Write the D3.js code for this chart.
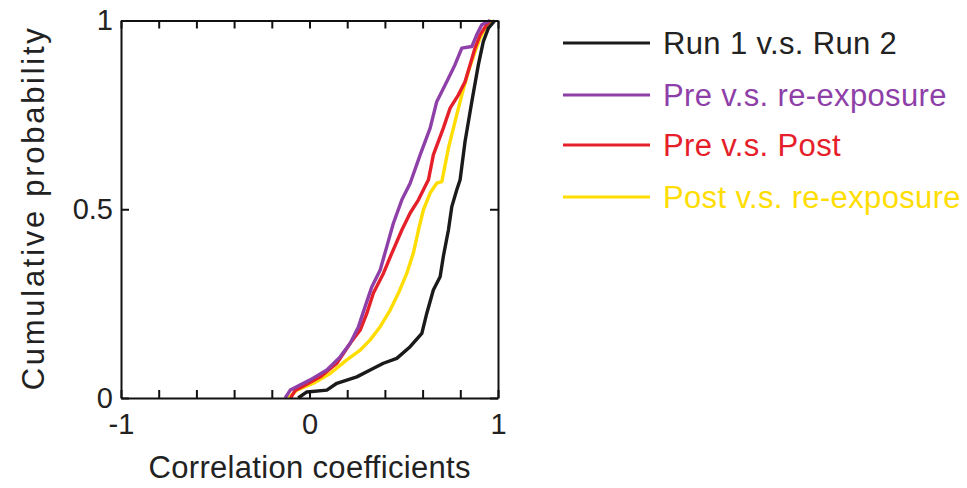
<!DOCTYPE html>
<html>
<head>
<meta charset="utf-8">
<script src="https://cdn.jsdelivr.net/npm/d3@7"></script>
<style>
  body { margin: 0; background: #fff; }
  svg { font-family: "Liberation Sans", Arial, sans-serif; }
</style>
</head>
<body>
<div id="main"></div>
<script>
// legend labels / colours
const seriesNames = ["Run 1 v.s. Run 2", "Pre v.s. re-exposure", "Pre v.s. Post", "Post v.s. re-exposure"];
const seriesColors = ["#1a1a1a", "#8e3fa8", "#e5202a", "#ffdd00"];

// cumulative distributions: correlation value (r) and cumulative probability (p)
const run12R = [-0.06, -0.014, 0.092, 0.145, 0.251, 0.322, 0.392, 0.463, 0.534, 0.596, 0.622, 0.657, 0.693, 0.710, 0.737, 0.755, 0.781, 0.799, 0.825, 0.861, 0.896, 0.922, 0.949, 0.984];
const run12P = [0, 0.016, 0.021, 0.039, 0.056, 0.074, 0.092, 0.105, 0.136, 0.171, 0.224, 0.286, 0.321, 0.375, 0.445, 0.507, 0.551, 0.578, 0.679, 0.785, 0.883, 0.944, 0.98, 1];

const preReR = [-0.129, -0.102, 0.004, 0.092, 0.163, 0.216, 0.260, 0.295, 0.331, 0.375, 0.410, 0.445, 0.490, 0.534, 0.587, 0.640, 0.675, 0.728, 0.772, 0.808, 0.861, 0.887, 0.914, 0.958];
const preReP = [0, 0.021, 0.048, 0.074, 0.109, 0.145, 0.189, 0.242, 0.295, 0.339, 0.401, 0.463, 0.525, 0.569, 0.644, 0.715, 0.785, 0.838, 0.883, 0.927, 0.931, 0.962, 0.989, 1];

const prePostR = [-0.1, -0.076, 0.057, 0.145, 0.216, 0.269, 0.304, 0.339, 0.392, 0.437, 0.490, 0.534, 0.578, 0.613, 0.631, 0.657, 0.710, 0.746, 0.790, 0.825, 0.852, 0.878, 0.905, 0.940, 0.958];
const prePostP = [0, 0.02, 0.056, 0.092, 0.145, 0.18, 0.224, 0.278, 0.33, 0.384, 0.445, 0.49, 0.525, 0.56, 0.578, 0.644, 0.715, 0.768, 0.803, 0.838, 0.883, 0.927, 0.962, 0.989, 1];

const postReR = [-0.111, -0.067, 0.021, 0.110, 0.198, 0.269, 0.322, 0.375, 0.428, 0.472, 0.516, 0.551, 0.578, 0.604, 0.640, 0.675, 0.702, 0.737, 0.772, 0.808, 0.843, 0.878, 0.905, 0.940, 0.967];
const postReP = [0, 0.021, 0.039, 0.065, 0.101, 0.127, 0.154, 0.189, 0.233, 0.278, 0.33, 0.384, 0.445, 0.498, 0.543, 0.569, 0.573, 0.662, 0.732, 0.803, 0.865, 0.917, 0.953, 0.989, 1];

// ticks
const xTicks = [-1, -0.8, -0.6, -0.4, -0.2, 0, 0.2, 0.4, 0.6, 0.8, 1];
const xTickLabels = [-1, 0, 1];
const yTicks = [0, 0.5, 1];

onload = () => {
    let svg = d3.select("#main").append("svg").attr("width", 967).attr("height", 488);

    let left = 121, right = 498, top = 20.5, bottom = 398;
    let x = d3.scaleLinear().domain([-1, 1]).range([left, right]);
    let y = d3.scaleLinear().domain([0, 1]).range([bottom, top]);

    let series = [
        { r: run12R, p: run12P },
        { r: preReR, p: preReP },
        { r: prePostR, p: prePostP },
        { r: postReR, p: postReP },
    ];

    let line = d3.line().x((d) => x(d[0])).y((d) => y(d[1]));

    // draw lines back to front: yellow, red, purple, black
    let order = [3, 2, 1, 0];
    svg.append("g")
        .selectAll("path")
        .data(order)
        .join("path")
        .attr("d", (i) => line(d3.zip(series[i].r, series[i].p)))
        .attr("fill", "none")
        .attr("stroke", (i) => seriesColors[i])
        .attr("stroke-width", 3.4)
        .attr("stroke-linejoin", "round");

    // plain hyphen for negatives, like the original figure
    let fmtX = (d) => (xTickLabels.includes(Math.round(d * 10) / 10) ? String(Math.round(d)) : "");

    let axisB = d3.axisBottom(x).tickValues(xTicks).tickSizeInner(-8).tickSizeOuter(0).tickPadding(15).tickFormat(fmtX);
    let axisT = d3.axisTop(x).tickValues(xTicks).tickSizeInner(-8).tickSizeOuter(0).tickFormat("");
    let axisL = d3.axisLeft(y).tickValues(yTicks).tickSizeInner(-8).tickSizeOuter(0).tickPadding(8)
        .tickFormat((d) => (d === 0.5 ? "0.5" : String(d)));
    let axisR = d3.axisRight(y).tickValues(yTicks).tickSizeInner(-8).tickSizeOuter(0).tickFormat("");

    let g = svg.append("g").classed("axis", true);
    g.append("g").attr("transform", `translate(0, ${bottom})`).call(axisB);
    g.append("g").attr("transform", `translate(0, ${top})`).call(axisT);
    g.append("g").attr("transform", `translate(${left}, 0)`).call(axisL);
    g.append("g").attr("transform", `translate(${right}, 0)`).call(axisR);

    g.selectAll(".domain").attr("stroke", "#111").attr("stroke-width", 2);
    g.selectAll(".tick line").attr("stroke", "#111").attr("stroke-width", 2);
    g.selectAll(".tick text").attr("fill", "#222").style("font-size", "29px").style("font-family", "Liberation Sans, Arial, sans-serif");

    // axis titles
    svg.append("text")
        .attr("x", (left + right) / 2)
        .attr("y", 478)
        .attr("text-anchor", "middle")
        .attr("fill", "#222")
        .attr("textLength", 322)
        .attr("lengthAdjust", "spacing")
        .style("font-size", "31px")
        .text("Correlation coefficients");

    svg.append("text")
        .attr("transform", `translate(44, ${(top + bottom) / 2}) rotate(-90)`)
        .attr("text-anchor", "middle")
        .attr("fill", "#222")
        .attr("textLength", 362)
        .attr("lengthAdjust", "spacing")
        .style("font-size", "31px")
        .text("Cumulative probability");

    // legend
    let legendY = [43, 95, 145, 197];
    let legend = svg.append("g").selectAll("g").data(seriesNames).join("g")
        .attr("transform", (d, i) => `translate(563, ${legendY[i]})`);
    legend.append("line")
        .attr("x1", 0).attr("x2", 87).attr("y1", 0).attr("y2", 0)
        .attr("stroke", (d, i) => seriesColors[i])
        .attr("stroke-width", 3);
    legend.append("text")
        .attr("x", 100)
        .attr("y", 0)
        .attr("dy", "0.36em")
        .attr("fill", (d, i) => (i === 0 ? "#222" : seriesColors[i]))
        .style("font-size", "31px")
        .style("letter-spacing", "0.35px")
        .text((d) => d);
};
</script>
</body>
</html>
